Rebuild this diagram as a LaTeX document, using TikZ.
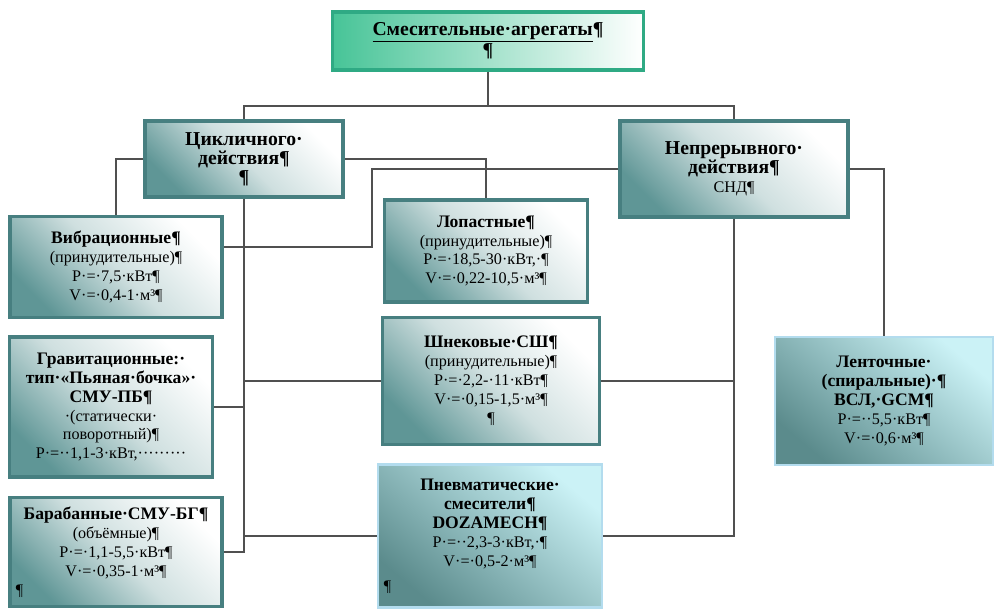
\documentclass[tikz,border=0pt]{standalone}
\usepackage{fontspec}
\setmainfont{Liberation Serif}
\definecolor{tealedge}{HTML}{477F80}
\definecolor{tealfill}{HTML}{5F9696}
\definecolor{greenedge}{HTML}{2FAA84}
\definecolor{greenfill}{HTML}{47C497}
\definecolor{skyedge}{HTML}{B3DCEE}
\definecolor{skyfill}{HTML}{CBF2F6}
\definecolor{skydark}{HTML}{5B8B8C}
\definecolor{wire}{HTML}{505050}
\newcommand{\boxhead}[1]{{\fontsize{12.5}{14}\selectfont\bfseries #1}}
\newcommand{\mainhead}[1]{{\fontsize{14}{17}\selectfont\bfseries #1}}
\begin{document}
\begin{tikzpicture}[x=0.025cm, y=-0.025cm,
		box/.style={draw=tealedge, line width=2.4pt, top color=white, bottom color=tealfill, middle color=tealfill!30,
			shading angle=-45, align=center, inner sep=1pt, font=\fontsize{11.5}{13.5}\selectfont},
		topbox/.style={box, draw=greenedge, left color=greenfill, middle color=white, right color=white},
		skybox/.style={box, draw=skyedge, line width=2pt, top color=skyfill, bottom color=skydark, shading angle=-40},
		link/.style={draw=wire, line width=1pt}]
		\useasboundingbox (0, 0) rectangle (994, 609);
		% Top level nodes
		\node[topbox, minimum width=7.775cm, minimum height=1.45cm] (Agg) at (488, 41)
			{\mainhead{\underline{Смесительные·агрегаты}¶}\\\mainhead{¶}};
		\node[box, minimum width=4.95cm, minimum height=1.9cm] (Cyc) at (244, 159)
			{\mainhead{Цикличного·}\\\mainhead{действия¶}\\\mainhead{¶}};
		\node[box, minimum width=5.7cm, minimum height=2.4cm] (Cont) at (734, 169)
			{\mainhead{Непрерывного·}\\\mainhead{действия¶}\\СНД¶};
		% Mixer nodes
		\node[box, minimum width=5.3cm, minimum height=2.525cm] (Vib) at (116, 267)
			{\boxhead{Вибрационные¶}\\(принудительные)¶\\P·=·7,5·кВт¶\\V·=·0,4-1·м³¶};
		\node[box, minimum width=5.075cm, minimum height=2.55cm] (Lop) at (486, 251)
			{\boxhead{Лопастные¶}\\(принудительные)¶\\P·=·18,5-30·кВт,·¶\\V·=·0,22-10,5·м³¶};
		\node[box, minimum width=5.075cm, minimum height=3.5cm] (Grav) at (111, 407)
			{\boxhead{Гравитационные:·}\\\boxhead{тип·«Пьяная·бочка»·}\\\boxhead{СМУ-ПБ¶}\\
			·(статически·\\поворотный)¶\\P·=··1,1-3·кВт,·········};
		\node[box, minimum width=5.425cm, minimum height=3.175cm] (Shn) at (491, 381)
			{\boxhead{Шнековые·СШ¶}\\(принудительные)¶\\P·=·2,2-·11·кВт¶\\V·=·0,15-1,5·м³¶\\¶};
		\node[skybox, minimum width=5.45cm, minimum height=3.2cm] (Lent) at (884, 401)
			{\boxhead{Ленточные·}\\\boxhead{(спиральные)·¶}\\\boxhead{ВСЛ,·GCM¶}\\P·=··5,5·кВт¶\\V·=·0,6·м³¶};
		\node[box, minimum width=5.3cm, minimum height=2.725cm, text width=5cm] (Bar) at (116, 552)
			{\boxhead{Барабанные·СМУ-БГ¶}\\(объёмные)¶\\P·=·1,1-5,5·кВт¶\\V·=·0,35-1·м³¶\\\makebox[\hsize][l]{¶}};
		\node[skybox, minimum width=5.6cm, minimum height=3.575cm, text width=5.3cm] (Pnev) at (490, 536)
			{\boxhead{Пневматические·}\\\boxhead{смесители¶}\\\boxhead{DOZAMECH¶}\\P·=··2,3-3·кВт,·¶\\V·=·0,5-2·м³¶\\[4pt]\makebox[\hsize][l]{¶}};
		% Top level connections
		\coordinate (Fork) at (488, 106);
		\draw[link] (Agg.south) -- (Fork);
		\draw[link] (Fork) -| (Cyc.north);
		\draw[link] (Fork) -| (Cont.north);
		% Cyclic mixer connections
		\draw[link] (Cyc.east) -| (Lop.north);
		\draw[link] (Cyc.west) -| (Vib.north);
		\draw[link] (Cyc.south) -- (Cyc.south |- Bar.east) -- (Bar.east);
		\draw[link] (Cyc.south |- Shn.west) -- (Shn.west);
		\draw[link] (Cyc.south |- Grav.east) -- (Grav.east);
		\draw[link] (Cyc.south |- Pnev.west) -- (Pnev.west);
		% Continuous mixer connections
		\coordinate (Bend) at (372, 247);
		\draw[link] (Cont.west) -| (Bend) -- (Bend -| Vib.east);
		\draw[link] (Cont.east) -| (Lent.north);
		\draw[link] (Cont.south) |- (Pnev.east);
		\draw[link] (Cont.south |- Shn.east) -- (Shn.east);
	\end{tikzpicture}
\end{document}
